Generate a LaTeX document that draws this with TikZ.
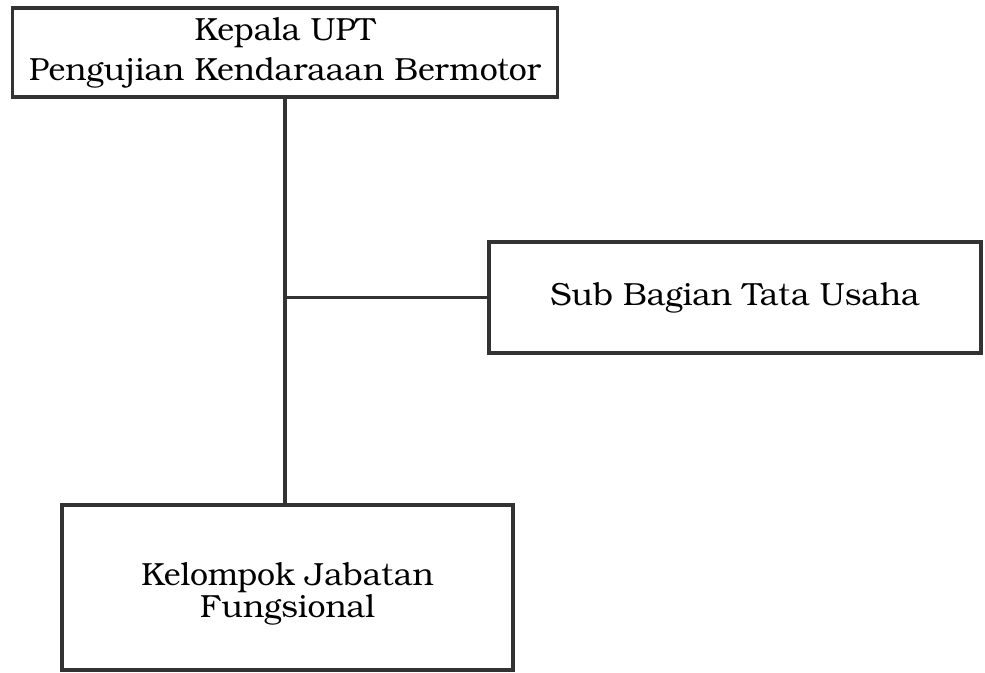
\documentclass[tikz,border=0pt]{standalone}
\usepackage{fontspec}
\setmainfont{texgyrebonum-regular.otf}
\begin{document}
\begin{tikzpicture}[x=1pt,y=-1pt,
  orgbox/.style={draw=black!80, line width=3.5pt, fill=white, inner sep=0pt, align=center, font=\fontsize{32}{41}\selectfont},
  boxtext/.style={inner sep=0pt, align=center, font=\fontsize{32}{32}\selectfont},
  link/.style={draw=black!80, line width=3.2pt}]
\useasboundingbox (0,0) rectangle (985,672);
\node[orgbox, minimum width=545, minimum height=89] (kepala) at (285,52.5) {Kepala UPT\\[-1pt]Pengujian Kendaraaan Bermotor};
\node[orgbox, minimum width=492, minimum height=111] (sub) at (735,297.5) {Sub Bagian Tata Usaha};
\node[orgbox, minimum width=451, minimum height=165] (kjf) at (287.5,587.5) {};
\node[boxtext] (kjftext) at ([yshift=-6pt]kjf.center) {Kelompok Jabatan\\Fungsional};
\coordinate (j) at (kepala.south |- sub.west);
\draw[link] (kepala.south) -- (kepala.south |- kjf.north);
\draw[link] (j) -- (sub.west);
\end{tikzpicture}
\end{document}
